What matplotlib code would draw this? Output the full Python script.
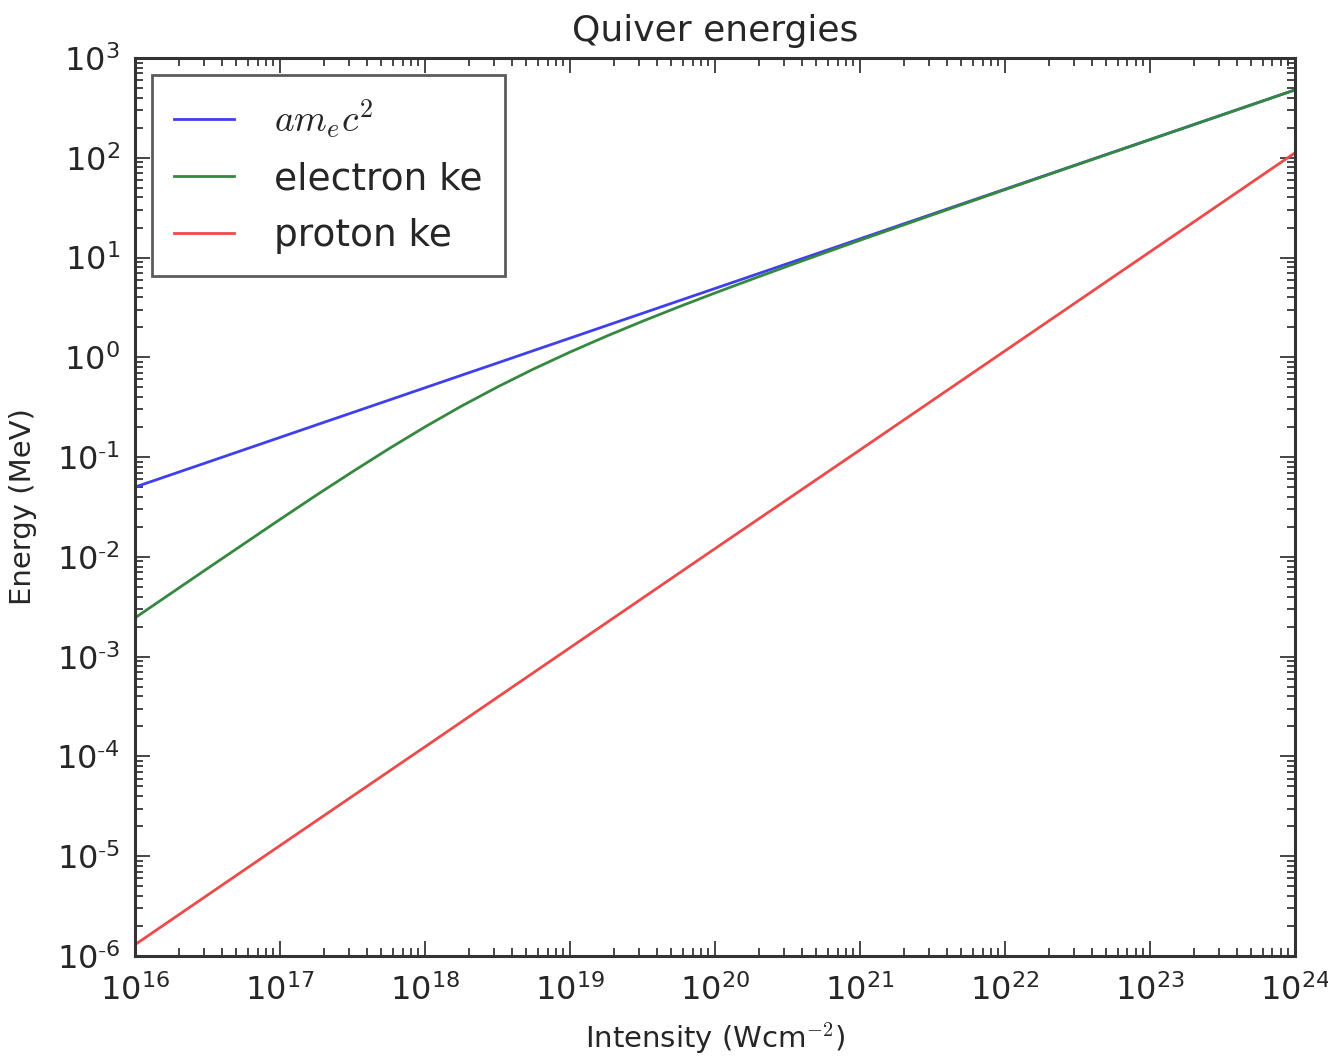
import matplotlib
matplotlib.use('Agg')
import matplotlib.pyplot as plt
from matplotlib.ticker import LogLocator, NullFormatter, FuncFormatter
import numpy as np

# values (log-log)
intensity = [1e16, 10**16.5, 1e17, 10**17.25, 10**17.5, 10**17.75, 1e18, 10**18.25,
             10**18.5, 10**18.75, 1e19, 10**19.25, 10**19.5, 10**19.75, 1e20,
             10**20.25, 10**20.5, 10**20.75, 1e21, 10**21.5, 1e22, 10**22.5, 1e23,
             10**23.5, 1e24]

a_mec2 = [0.0501, 0.0888, 0.1576, 0.210, 0.2794, 0.372, 0.4955, 0.660,
          0.878, 1.170, 1.557, 2.075, 2.763, 3.679, 4.898,
          6.52, 8.685, 11.56, 15.40, 27.31, 48.42, 85.88, 152.2,
          269.9, 478.6]

electron_ke = [0.00245, 0.00766, 0.02375, 0.0415, 0.0714, 0.1211, 0.2008, 0.3237,
               0.5049, 0.7657, 1.128, 1.626, 2.299, 3.203, 4.414,
               6.029, 8.189, 11.06, 14.90, 26.80, 47.91, 85.37, 151.7,
               269.4, 478.1]

proton_intensity = [1e16, 1e17, 1e18, 1e19, 1e20, 1e21, 1e22, 1e23, 1e24]
proton_ke = [1.3e-6, 1.28e-5, 1.25e-4, 1.23e-3, 1.21e-2, 0.118, 1.16, 11.4, 112.0]

plt.rcParams['font.family'] = ['DejaVu Sans']
plt.rcParams['mathtext.fontset'] = 'cm'
text_col = '#262626'


def pow10(v, pos):
    e = int(round(np.log10(v)))
    s = str(e).replace('-', r'\text{-}')
    return r'$\mathdefault{10^{%s}}$' % s


fig = plt.figure(figsize=(13.28, 10.58), dpi=100)
ax = fig.add_axes([0.1017, 0.0964, 0.8734, 0.8488])

ax.plot(intensity, a_mec2, color='#3f3fee', lw=2.0, label=r'$am_ec^2$')
ax.plot(intensity, electron_ke, color='#35883f', lw=2.0, label='electron ke')
ax.plot(proton_intensity, proton_ke, color='#ee4a4a', lw=2.0, label='proton ke')

ax.set_xscale('log')
ax.set_yscale('log')
ax.set_xlim(1e16, 1e24)
ax.set_ylim(1e-6, 1e3)

ax.xaxis.set_major_locator(LogLocator(base=10, numticks=20))
ax.yaxis.set_major_locator(LogLocator(base=10, numticks=20))
ax.xaxis.set_minor_locator(LogLocator(base=10, subs=range(2, 10), numticks=100))
ax.yaxis.set_minor_locator(LogLocator(base=10, subs=range(2, 10), numticks=100))
ax.xaxis.set_major_formatter(FuncFormatter(pow10))
ax.yaxis.set_major_formatter(FuncFormatter(pow10))
ax.xaxis.set_minor_formatter(NullFormatter())
ax.yaxis.set_minor_formatter(NullFormatter())

ax.tick_params(which='both', direction='in', top=True, right=True,
               colors=text_col, labelsize=23, width=1.2)
ax.tick_params(which='major', length=11)
ax.tick_params(which='minor', length=5.5)
ax.tick_params(axis='x', which='major', pad=13)
ax.tick_params(axis='y', which='major', pad=11)
for sp in ax.spines.values():
    sp.set_linewidth(2.2)
    sp.set_color('#333333')

ax.set_title('Quiver energies', fontsize=26, color=text_col, pad=12)
ax.set_xlabel(r'Intensity (Wcm$^{-2}$)', fontsize=21, color=text_col, labelpad=10)
ax.set_ylabel('Energy (MeV)', fontsize=21, color=text_col, labelpad=14)

leg = ax.legend(loc='upper left', fontsize=27, fancybox=False, frameon=True,
                borderaxespad=0.45, handlelength=1.6, handletextpad=1.05,
                labelspacing=0.55, borderpad=0.6)
leg.get_frame().set_edgecolor('#333333')
leg.get_frame().set_linewidth(2.0)
for t in leg.get_texts():
    t.set_color(text_col)

fig.savefig('out.png', dpi=100, facecolor='white')
